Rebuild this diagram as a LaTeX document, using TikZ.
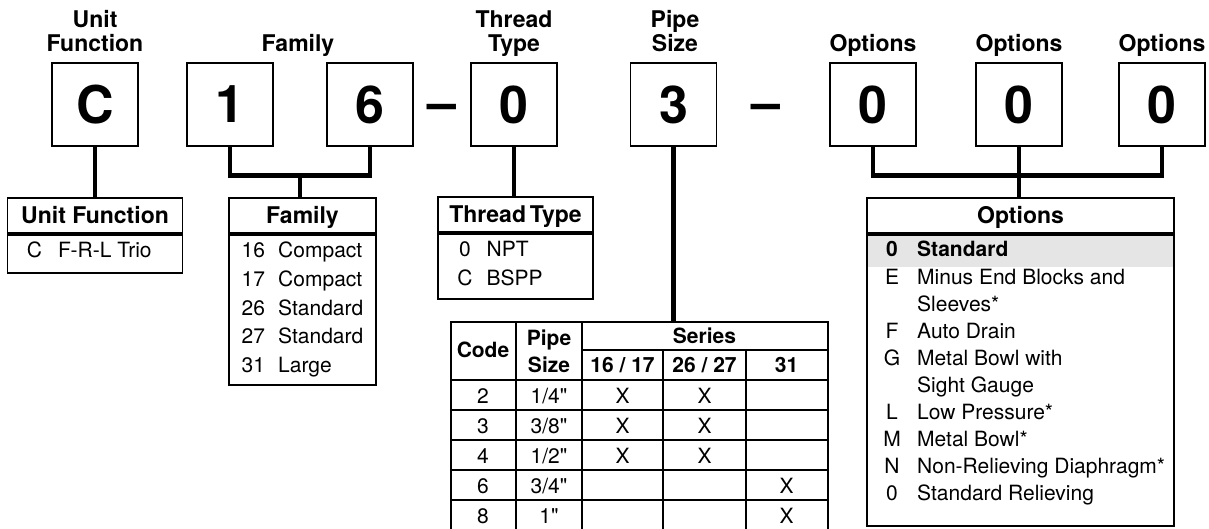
\documentclass[tikz,border=0pt]{standalone}
\usepackage{fontspec}
\setmainfont{TeX Gyre Heros}[Ligatures=TeXOff]
\usetikzlibrary{positioning,calc}
\newcommand{\bigsz}{\fontsize{52}{52}\selectfont\bfseries}
\newcommand{\lblsz}{\fontsize{23}{24}\selectfont\bfseries}
\newcommand{\txtsz}{\fontsize{21}{27}\selectfont}
\newcommand{\thsz}{\fontsize{21}{27}\selectfont\bfseries}

\begin{document}
\begin{tikzpicture}[
    x=1pt, y=-1pt,
    codebox/.style={draw, line width=1.8pt, minimum width=86pt, minimum height=83pt, inner sep=0pt, font=\bigsz},
    dashsep/.style={inner sep=0pt, anchor=base, font=\bigsz},
    lbl/.style={align=center, inner sep=0pt, anchor=base, font=\lblsz},
    link/.style={line width=4.8pt},
    thead/.style={draw, line width=1.8pt, inner sep=0pt, anchor=north, minimum height=35pt, text height=16.5pt, text depth=0pt, font=\lblsz},
    tbody/.style={draw, line width=1.8pt, inner sep=0pt, anchor=north},
    rowtext/.style={inner sep=0pt, anchor=base west, font=\txtsz},
    rowcode/.style={inner sep=0pt, anchor=base, font=\txtsz},
    pipehd/.style={inner sep=0pt, anchor=base, align=center, font=\thsz},
    gridline/.style={line width=1.8pt},
    rowline/.style={line width=1.1pt}
]
\useasboundingbox (0,0) rectangle (1209,529);

% model code boxes
\node[codebox] (unit) at (95,104.5) {C};
\node[codebox] (one) at (230,104.5) {1};
\node[codebox] (six) at (370,104.5) {6};
\node[dashsep] (dasha) at (442,121) {\textendash};
\node[codebox] (thread) at (514,104.5) {0};
\node[codebox] (pipe) at (673.5,104.5) {3};
\node[dashsep] (dashb) at (766,121) {\textendash};
\node[codebox] (opta) at (873,104.5) {0};
\node[codebox] (optb) at (1019,104.5) {0};
\node[codebox] (optc) at (1162,104.5) {0};

% labels above (base = last line)
\node[lbl] (lblunit) at (95,52) {Unit\\Function};
\node[lbl] (lblfam) at (298,52) {Family};
\node[lbl] (lblthr) at (514,52) {Thread\\Type};
\node[lbl] (lblpipe) at (675,52) {Pipe\\Size};
\foreach \b in {opta,optb,optc}
    \node[lbl] (lbl\b) at (\b.center |- 0,52) {Options};

% unit function table
\node[thead, minimum width=175pt] (unithead) at (95,197) {Unit Function};
\node[tbody, minimum width=175pt, minimum height=38pt] (unitbody) at (unithead.south) {};
\node[rowcode] (unitc1) at (34.5,258) {C};
\node[rowtext] (unitn1) at (58,258) {F-R-L Trio};

% family table
\node[thead, minimum width=147pt] (famhead) at (302.5,197) {Family};
\node[tbody, minimum width=147pt, minimum height=150pt] (fambody) at (famhead.south) {};
\foreach \c/\n [count=\i] in {16/Compact,17/Compact,26/Standard,27/Standard,31/Large} {
    \node[rowtext] (famc\i) at (241.5,{258+28.6*(\i-1)}) {\c};
    \node[rowtext] (famn\i) at (278,{258+28.6*(\i-1)}) {\n};
}

% thread type table
\node[thead, minimum width=155pt] (thrhead) at (515.5,196) {Thread\,Type};
\node[tbody, minimum width=155pt, minimum height=65pt] (thrbody) at (thrhead.south) {};
\foreach \c/\n [count=\i] in {0/NPT,C/BSPP} {
    \node[rowcode] (thrc\i) at (465,{257+28*(\i-1)}) {\c};
    \node[rowtext] (thrn\i) at (486.5,{257+28*(\i-1)}) {\n};
}

% pipe size table
\node[draw, line width=1.8pt, inner sep=0pt, anchor=north west, minimum width=377pt, minimum height=214pt] (pipetab) at (450,321) {};
\foreach \x in {516,582} \draw[gridline] (\x,321) -- (\x,535);
\foreach \x in {663,746} \draw[gridline] (\x,350) -- (\x,535);
\draw[gridline] (582,350) -- (827,350);
\draw[gridline] (450,380) -- (827,380);
\foreach \y in {410,440,470,500} \draw[rowline] (450,\y) -- (827,\y);
\node[pipehd] (hcode) at (483,357) {Code};
\node[pipehd] (hpipe) at (549,372) {Pipe\\Size};
\node[pipehd] (hseries) at (704.5,343) {Series};
\node[pipehd] (hsa) at (622.5,372) {16 / 17};
\node[pipehd] (hsb) at (704.5,372) {26 / 27};
\node[pipehd] (hsc) at (786.5,372) {31};
\foreach \c/\p/\a/\b/\d [count=\r] in {2/{1/4"}/X/X/{},3/{3/8"}/X/X/{},4/{1/2"}/X/X/{},6/{3/4"}/{}/{}/X,8/{1"}/{}/{}/X} {
    \node[rowcode] (pc\r) at (483,{403+30*(\r-1)}) {\c};
    \node[rowcode] (pp\r) at (549,{403+30*(\r-1)}) {\p};
    \node[rowcode] (pa\r) at (622.5,{403+30*(\r-1)}) {\a};
    \node[rowcode] (pb\r) at (704.5,{403+30*(\r-1)}) {\b};
    \node[rowcode] (pd\r) at (786.5,{403+30*(\r-1)}) {\d};
}

% options table
\node[thead, minimum width=307pt] (opthead) at (1020.5,197) {Options};
\node[fill=black!10, inner sep=0pt, anchor=north, minimum width=307pt, minimum height=33pt] (optstd) at (opthead.south) {};
\node[tbody, minimum width=307pt, minimum height=291pt] (optbody) at (opthead.south) {};
\node[rowcode, font=\txtsz\bfseries] (optc1) at (892,257) {0};
\node[rowtext, font=\txtsz\bfseries] (optn1) at (917,257) {Standard};
\foreach \c/\n [count=\i from 2] in {E/Minus End Blocks and,{}/Sleeves*,F/Auto Drain,G/Metal Bowl with,{}/Sight Gauge,L/Low Pressure*,M/Metal Bowl*,N/Non-Relieving Diaphragm*,0/Standard Relieving} {
    \node[rowcode] (optc\i) at (892,{257+27*(\i-1)}) {\c};
    \node[rowtext] (optn\i) at (917,{257+27*(\i-1)}) {\n};
}

% connectors
\coordinate (famjoin) at ($(one.south)!0.5!(six.south)+(0,29)$);
\coordinate (optjoin) at ($(optb.south)+(0,29)$);
\draw[link] (unit.south) -- (unit.south |- unithead.north);
\draw[link] (one.south) |- (famjoin) -| (six.south);
\draw[link] (famjoin) -- (famjoin |- famhead.north);
\draw[link] (thread.south) -- (thread.south |- thrhead.north);
\draw[link] (pipe.south) -- (pipe.south |- pipetab.north);
\draw[link] (opta.south) |- (optjoin) -| (optc.south);
\draw[link] (optb.south) -- (optb.south |- opthead.north);
\end{tikzpicture}
\end{document}
